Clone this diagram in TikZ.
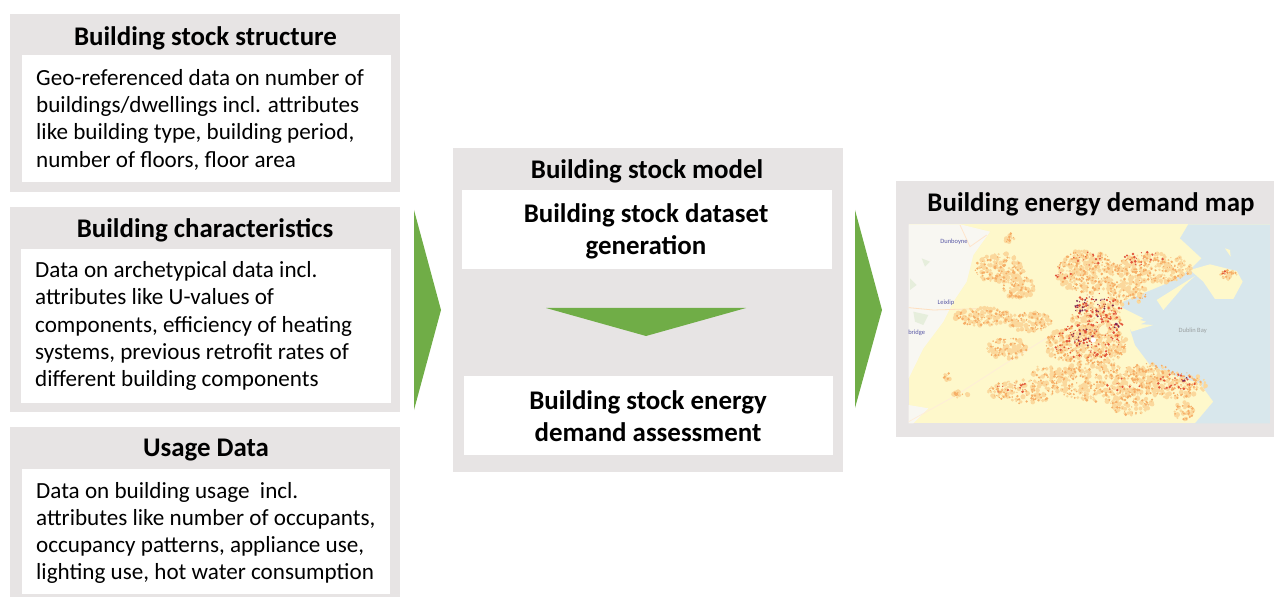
\documentclass[tikz,border=0pt]{standalone}
\usepackage{fontspec}
\setmainfont{Carlito}
\definecolor{panel}{HTML}{E7E4E4}
\definecolor{gr}{HTML}{70AD47}
\definecolor{land}{HTML}{FEF8CB}
\definecolor{sea}{HTML}{D8E7EC}
\definecolor{pale}{HTML}{F8F7F2}
\definecolor{patch}{HTML}{E6EEDC}
\definecolor{peach}{HTML}{FBD89C}
\definecolor{orng}{HTML}{F6AE66}
\definecolor{redd}{HTML}{E2553A}
\definecolor{dark}{HTML}{7C2350}
\tikzset{
  panelbox/.style={fill=panel,draw=none},
  whitebox/.style={fill=white,draw=none},
  title/.style={anchor=center,inner sep=0pt,font=\fontsize{27}{32}\selectfont\bfseries},
  body/.style={anchor=west,inner sep=0pt,align=left,font=\fontsize{23.2}{27.4}\selectfont},
  big/.style={anchor=center,inner sep=0pt,align=center,font=\fontsize{27}{32}\selectfont\bfseries},
  greenarrow/.style={fill=gr,draw=none},
  maplabel/.style={inner sep=0pt,font=\fontsize{6.5}{8}\selectfont,text=#1},
}
\begin{document}
\begin{tikzpicture}[x=1bp,y=-1bp]
\useasboundingbox (0,0) rectangle (1274,597);
\pgfmathsetseed{42}
% left panels
\fill[panelbox] (10,14) rectangle (400,192);
\fill[whitebox] (22,55) rectangle (391,182);
\node[title] (t1) at (205.5,38) {Building stock structure};
\node[body] (b1) at (36,119.7) {Geo-referenced data on number of\\buildings/dwellings incl. attributes\\like building type, building period,\\number of floors, floor area};
\fill[panelbox] (10,207) rectangle (400,412);
\fill[whitebox] (21,249) rectangle (391,403);
\node[title] (t2) at (205,230) {Building characteristics};
\node[body] (b2) at (35,326) {Data on archetypical data incl.\\attributes like U-values of\\components, efficiency of heating\\systems, previous retrofit rates of\\different building components};
\fill[panelbox] (10,427) rectangle (400,597);
\fill[whitebox] (22,469) rectangle (390,594);
\node[title] (t3) at (206,450) {Usage Data};
\node[body] (b3) at (36,533) {Data on building usage\ \ incl.\\attributes like number of occupants,\\occupancy patterns, appliance use,\\lighting use, hot water consumption};
% arrows
\fill[greenarrow] (414,210) -- (441,310) -- (414,410) -- cycle;
\fill[greenarrow] (855,210) -- (882,310) -- (855,408) -- cycle;
% middle
\fill[panelbox] (453,148) rectangle (843,472);
\node[title] (t4) at (647,171) {Building stock model};
\fill[whitebox] (462,190) rectangle (832,269);
\node[big] (m1) at (646,231) {Building stock dataset\\generation};
\fill[greenarrow] (546,308) -- (746,308) -- (646,336) -- cycle;
\fill[whitebox] (464,376) rectangle (833,455);
\node[big] (m2) at (648,416.5) {Building stock energy\\demand assessment};
% right
\fill[panelbox] (896,181) rectangle (1274,437);
\node[title] (t5) at (1091,204.5) {Building energy demand map};
% map, in zoom coordinates
\begin{scope}[shift={(890,175)},x=0.33333bp,y=-0.33333bp]
\clip (56,148) rectangle (1140,745);
\fill[land] (56,148) rectangle (1140,745);
\fill[pale] (56,148) -- (210,148) -- (300,170) -- (250,240) -- (230,320) -- (190,380) -- (160,440) -- (100,520) -- (56,610) -- cycle;
\fill[pale] (56,690) -- (115,700) -- (70,745) -- (56,745) -- cycle;
\fill[patch] (60,310) -- (80,330) -- (60,345) -- cycle;
\fill[patch] (95,250) -- (120,260) -- (105,275) -- cycle;
\fill[patch] (70,410) -- (115,420) -- (100,450) -- (75,440) -- cycle;
\draw[orange!25,line width=0.8pt] (56,398) -- (130,405) -- (300,400);
\draw[orange!20,line width=0.8pt] (210,150) -- (240,215) -- (290,180);
\draw[orange!15,line width=0.7pt] (56,740) -- (200,660) -- (340,570) -- (500,470);
\fill[sea] (895,148) -- (870,190) -- (935,250) -- (900,285) -- (820,330) -- (700,380) -- (690,420) -- (770,440) -- (720,462) -- (735,510) -- (780,570) -- (850,600) -- (930,625) -- (970,680) -- (915,745) -- (1140,745) -- (1140,148) -- cycle;
\fill[land] (900,285) -- (960,268) -- (1040,288) -- (1058,320) -- (1030,372) -- (975,372) -- (940,320) -- cycle;
\fill[land] (800,375) -- (915,303) -- (880,335) -- (820,405) -- cycle;
\fill[land] (1005,220) -- (1020,225) -- (1022,245) -- cycle;
\fill[land] (690,395) -- (760,430) -- (740,440) -- (690,425) -- cycle;
\fill[land] (710,445) -- (790,450) -- (725,470) -- cycle;
% demand blobs
\foreach \x/\y/\a/\b/\n in {330/280/75/45/90, 385/335/50/35/55, 280/425/85/28/80, 350/520/60/32/55,
  590/290/90/65/170, 790/280/115/45/160, 710/350/60/40/70, 620/430/75/55/100, 590/510/125/60/220,
  420/440/65/30/65, 620/620/130/60/180, 400/650/110/35/90, 850/630/100/40/110, 780/600/60/40/60,
  880/710/30/30/24, 1015/300/25/15/20, 360/190/15/15/10, 210/660/25/10/10, 470/600/50/30/35, 720/680/70/40/65, 170/605/12/12/5}{
  \foreach \k in {1,...,\n}{
    \pgfmathsetmacro{\aa}{rand*180}
    \pgfmathsetmacro{\rr}{sqrt(abs(rnd))}
    \fill[peach] ({\x+\a*\rr*cos(\aa)},{\y+\b*\rr*sin(\aa)}) circle[radius=3+5*rnd];
  }
  \pgfmathtruncatemacro{\m}{\n*0.8}
  \foreach \k in {1,...,\m}{
    \pgfmathsetmacro{\aa}{rand*180}
    \pgfmathsetmacro{\rr}{sqrt(abs(rnd))}
    \fill[orng] ({\x+\a*\rr*cos(\aa)},{\y+\b*\rr*sin(\aa)}) circle[radius=1.5+3*rnd];
  }
}
\foreach \x/\y/\a/\b/\n in {620/400/75/45/70, 590/500/100/55/90, 680/450/35/25/18, 600/250/50/20/14, 760/250/60/20/18, 860/625/60/28/28, 520/290/25/25/10, 400/640/20/15/6, 1010/293/12/6/5, 700/640/50/30/8, 350/640/40/15/6}{
  \foreach \k in {1,...,\n}{
    \pgfmathsetmacro{\aa}{rand*180}
    \pgfmathsetmacro{\rr}{sqrt(abs(rnd))}
    \fill[redd] ({\x+\a*\rr*cos(\aa)},{\y+\b*\rr*sin(\aa)}) circle[radius=1.5+3*rnd];
  }
}
\foreach \x/\y/\a/\b/\n in {610/395/60/30/32, 590/485/50/30/18, 690/450/20/15/6, 880/610/12/8/3}{
  \foreach \k in {1,...,\n}{
    \pgfmathsetmacro{\aa}{rand*180}
    \pgfmathsetmacro{\rr}{sqrt(abs(rnd))}
    \fill[dark] ({\x+\a*\rr*cos(\aa)},{\y+\b*\rr*sin(\aa)}) circle[radius=1.5+2*rnd];
  }
}
\fill[white] (610,495) circle[radius=8];
\fill[land] (640,465) circle[radius=14];
\node[maplabel=blue!30!gray] (l1) at (192,201) {Dunboyne};
\node[maplabel=blue!30!gray] (l2) at (168,384) {Leixlip};
\node[maplabel=blue!30!gray] (l3) at (80,474) {bridge};
\node[maplabel=gray!70!sea] (l4) at (908,467) {Dublin Bay};
\end{scope}
\end{tikzpicture}
\end{document}
